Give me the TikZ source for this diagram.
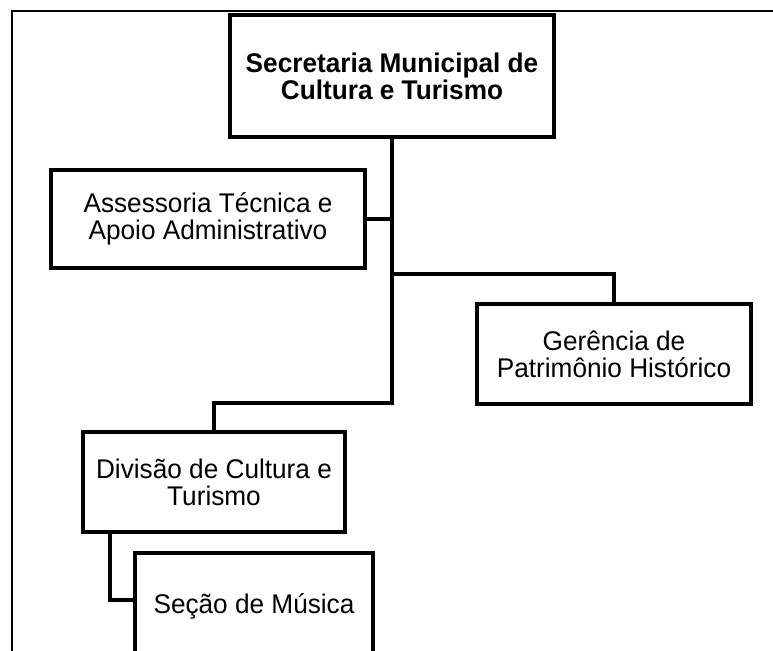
\documentclass[tikz,border=0pt]{standalone}
\usepackage{fontspec}
\setmainfont[FakeStretch=0.97]{Liberation Sans}
\begin{document}
\begin{tikzpicture}[
  x=1pt,y=1pt,
  orgbox/.style={draw=black, line width=4pt, fill=white, inner sep=0pt, align=center,
    font=\fontsize{27}{27}\selectfont},
  conn/.style={draw=black, line width=4pt},
  frameline/.style={draw=black, line width=1.5pt}
]
\useasboundingbox (0,0) rectangle (773,-650);
\clip (0,0) rectangle (773,-650);
% frame
\draw[frameline] (12,-652) -- (12,-11) -- (776,-11);
% boxes
\node[orgbox, minimum width=324pt, minimum height=122pt] (top) at (392,-76)
  {\bfseries Secretaria Municipal de\\\bfseries Cultura e Turismo};
\node[orgbox, minimum width=314pt, minimum height=98pt] (ass) at (208,-219)
  {Assessoria Técnica e\\Apoio Administrativo};
\node[orgbox, minimum width=274pt, minimum height=100pt] (ger) at (614,-354)
  {Gerência de\\Patrimônio Histórico};
\node[orgbox, minimum width=262pt, minimum height=100pt] (div) at (214,-482)
  {Divisão de Cultura e\\Turismo};
\node[orgbox, minimum width=238pt, minimum height=107pt] (sec) at (254,-606.5)
  {\raisebox{4pt}{Seção de Música}};
% connectors
\coordinate (j1) at (392,-403);
\coordinate (j2) at (392,-274);
\coordinate (d1) at (110,-532);
\draw[conn] (top.south) -- (j1) -| (div.north);
\draw[conn] (ass.east) -- (ass.east -| top.south);
\draw[conn] (j2) -| (ger.north);
\draw[conn] (d1) |- ([yshift=6.5pt]sec.west);
\end{tikzpicture}
\end{document}
